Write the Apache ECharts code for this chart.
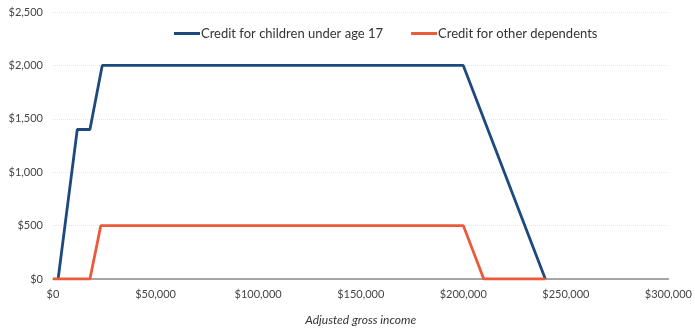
<!DOCTYPE html>
<html><head><meta charset="utf-8">
<script src="https://cdn.jsdelivr.net/npm/echarts@6/dist/echarts.min.js"></script>
<style>html,body{margin:0;padding:0;background:#fff}#c{width:695px;height:331px}</style>
</head><body><div id="c"></div>
<script>
const seriesNames = ['Credit for children under age 17', 'Credit for other dependents'];
const childIncome = [2500, 11833, 18000, 24000, 200000, 240000];
const childCredit = [0, 1400, 1400, 2000, 2000, 0];
const otherIncome = [0, 18000, 23300, 200000, 210000, 240000];
const otherCredit = [0, 0, 500, 500, 0, 0];
const xTicks = [0, 50000, 100000, 150000, 200000, 250000, 300000];
const yTicks = [0, 500, 1000, 1500, 2000, 2500];

const fmt = v => '$' + v.toLocaleString('en-US');
const chart = echarts.init(document.getElementById('c'), null, {renderer: 'canvas'});
chart.setOption({
  animation: false,
  textStyle: {fontFamily: 'Lato, "Open Sans", sans-serif'},
  grid: {left: 53, right: 25, top: 12, bottom: 49, containLabel: false},
  legend: {
    top: 22, left: 169,
    itemWidth: 26, itemHeight: 3, itemGap: 28,
    icon: 'rect',
    textStyle: {fontSize: 13, color: '#333', padding: [0, 0, 0, -4]},
    data: seriesNames
  },
  xAxis: {
    type: 'value', min: xTicks[0], max: xTicks[xTicks.length - 1], interval: 50000,
    name: 'Adjusted gross income', nameLocation: 'middle', nameGap: 35,
    nameTextStyle: {fontStyle: 'italic', fontSize: 12, color: '#333'},
    axisLine: {show: true, lineStyle: {color: '#8a8a8a', width: 1.5}},
    axisTick: {show: false},
    splitLine: {show: false},
    axisLabel: {formatter: fmt, fontSize: 11, color: '#444', margin: 10}
  },
  yAxis: {
    type: 'value', min: yTicks[0], max: yTicks[yTicks.length - 1], interval: 500,
    axisLine: {show: false}, axisTick: {show: false},
    splitLine: {show: true, lineStyle: {color: '#e6e6e6', type: 'dotted', width: 1}},
    axisLabel: {formatter: fmt, fontSize: 11, color: '#444', margin: 10}
  },
  series: [
    {name: seriesNames[0], type: 'line', symbol: 'none', z: 2,
     lineStyle: {color: '#1d4a7c', width: 2.8}, itemStyle: {color: '#1d4a7c'},
     data: childIncome.map((x, i) => [x, childCredit[i]])},
    {name: seriesNames[1], type: 'line', symbol: 'none', z: 3,
     lineStyle: {color: '#ec5a3c', width: 2.8}, itemStyle: {color: '#ec5a3c'},
     data: otherIncome.map((x, i) => [x, otherCredit[i]])}
  ]
});
</script></body></html>
